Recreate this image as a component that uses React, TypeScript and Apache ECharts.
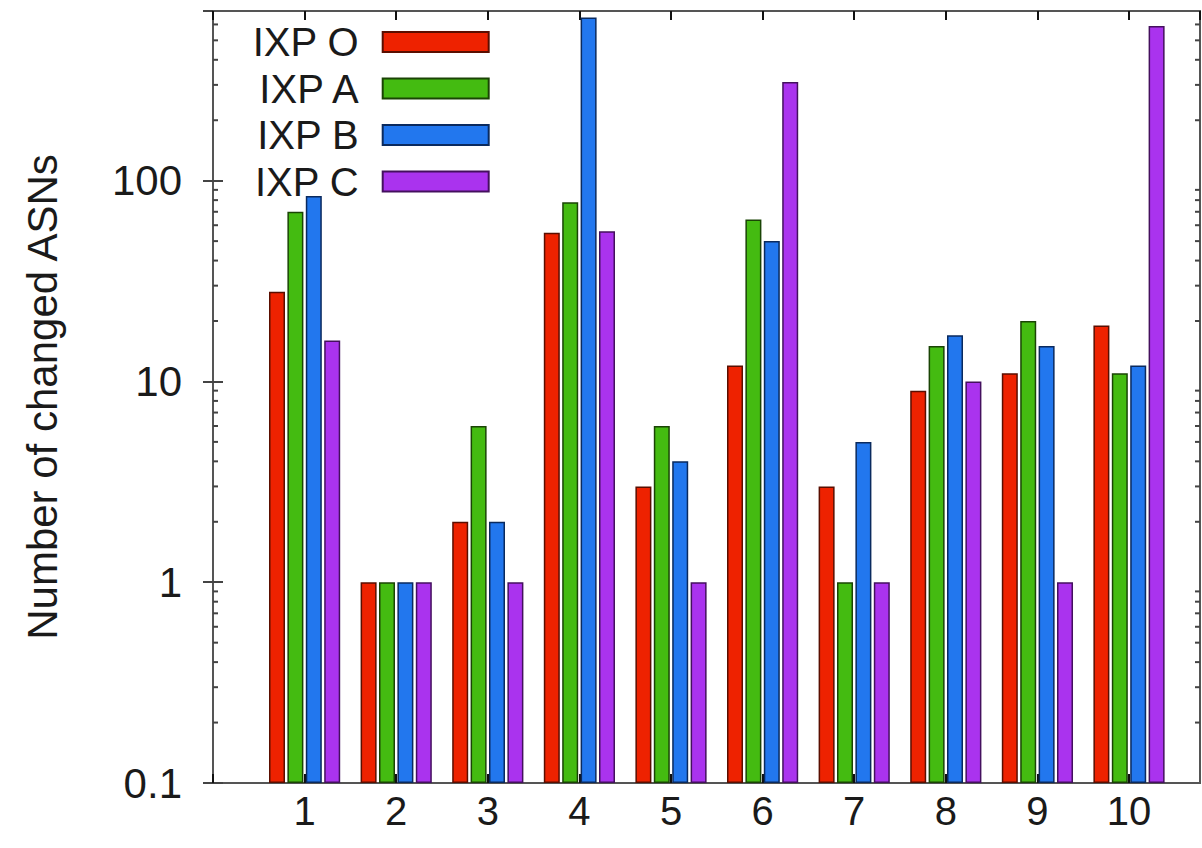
import React, { useEffect, useRef } from 'react';
import * as echarts from 'echarts';

// Categories along the x axis and the number of changed ASNs per IXP
const categories = [1, 2, 3, 4, 5, 6, 7, 8, 9, 10];
const seriesNames = ['IXP O', 'IXP A', 'IXP B', 'IXP C'];
const ixpO = [28, 1, 2, 55, 3, 12, 3, 9, 11, 19];
const ixpA = [70, 1, 6, 78, 6, 64, 1, 15, 20, 11];
const ixpB = [84, 1, 2, 650, 4, 50, 5, 17, 15, 12];
const ixpC = [16, 1, 1, 56, 1, 310, 1, 10, 1, 590];

// Axis ticks
const yTickLabels = ['0.1', '1', '10', '100'];
const yMinorTicks = [
  0.2, 0.3, 0.4, 0.5, 0.6, 0.7, 0.8, 0.9,
  2, 3, 4, 5, 6, 7, 8, 9,
  20, 30, 40, 50, 60, 70, 80, 90,
  200, 300, 400, 500, 600,
];

const Y_MIN = 0.1;
const Y_MAX = 700;
const X_MIN = 0;
const X_MAX = 10.775;

const FONT = '"Liberation Sans", Arial, Helvetica, sans-serif';
const TEXT = '#1a1a1a';
const FRAME = '#555555';

const fills = ['#ee2200', '#44bb11', '#2277ee', '#aa33ee'];
const borders = ['#5a0e00', '#1a4405', '#0a2a5e', '#44105e'];

function yLabel(v: number): string {
  for (const t of yTickLabels) {
    if (Math.abs(Number(t) - v) < Number(t) * 1e-6) return t;
  }
  return '';
}

export default function App() {
  const ref = useRef<HTMLDivElement>(null);

  useEffect(() => {
    if (!ref.current) return;
    const chart = echarts.init(ref.current, null, { renderer: 'svg' });

    const values = [ixpO, ixpA, ixpB, ixpC];
    const barSeries = seriesNames.map((name, i) => ({
      name,
      type: 'bar',
      xAxisIndex: 0,
      yAxisIndex: 0,
      barWidth: 16,
      barGap: '15%',
      data: categories.map((c, k) => [c, values[i][k]]),
      itemStyle: { color: fills[i], borderColor: borders[i], borderWidth: 1.5 },
      z: 3,
    }));

    // Minor ticks of the log axis at 2..9 of each decade, on both frame sides
    const minorTickSeries = {
      type: 'custom',
      xAxisIndex: 0,
      yAxisIndex: 0,
      silent: true,
      z: 1,
      data: yMinorTicks.map((v) => [X_MIN, v]),
      encode: { x: 0, y: 1 },
      renderItem: (_params: any, api: any) => {
        const v = api.value(1);
        const l = api.coord([X_MIN, v]);
        const r = api.coord([X_MAX, v]);
        const style = { stroke: '#444', lineWidth: 2 };
        return {
          type: 'group',
          children: [
            { type: 'line', shape: { x1: l[0], y1: l[1], x2: l[0] + 5, y2: l[1] }, style },
            { type: 'line', shape: { x1: r[0] - 5, y1: r[1], x2: r[0], y2: r[1] }, style },
          ],
        };
      },
    };

    const xAxisBase = {
      type: 'value',
      min: X_MIN,
      max: X_MAX,
      interval: 1,
      splitLine: { show: false },
      axisLine: { show: true, onZero: false, lineStyle: { color: FRAME, width: 2 } },
      axisTick: { show: true, inside: true, length: 9, lineStyle: { color: '#111', width: 2 } },
    };

    const yAxisBase = {
      type: 'log',
      logBase: 10,
      min: Y_MIN,
      max: Y_MAX,
      startValue: Y_MIN,
      splitLine: { show: false },
      axisLine: { show: true, lineStyle: { color: FRAME, width: 2 } },
      axisTick: { show: true, inside: true, length: 10, lineStyle: { color: '#444', width: 2 } },
    };

    chart.setOption({
      animation: false,
      backgroundColor: '#ffffff',
      grid: {
        left: 213,
        top: 11,
        right: 2,
        bottom: 65,
        show: true,
        borderColor: FRAME,
        borderWidth: 2,
        backgroundColor: '#ffffff',
      },
      legend: {
        data: seriesNames,
        orient: 'vertical',
        align: 'right',
        left: 247,
        top: 17,
        itemWidth: 106,
        itemHeight: 20,
        itemGap: 6.5,
        icon: 'rect',
        textStyle: { fontSize: 40, color: TEXT, fontFamily: FONT, padding: [0, 19, 6, 0] },
      },
      xAxis: [
        {
          ...xAxisBase,
          position: 'bottom',
          axisLabel: {
            show: true,
            fontSize: 40,
            color: TEXT,
            fontFamily: FONT,
            margin: 8,
            showMaxLabel: false,
            formatter: (v: number) => (categories.includes(v) ? String(v) : ''),
          },
        },
        {
          ...xAxisBase,
          position: 'top',
          axisLabel: { show: false },
        },
      ],
      yAxis: [
        {
          ...yAxisBase,
          position: 'left',
          axisLabel: {
            show: true,
            fontSize: 42,
            color: TEXT,
            fontFamily: FONT,
            margin: 31,
            showMaxLabel: false,
            formatter: (v: number) => yLabel(v),
          },
          name: 'Number of changed ASNs',
          nameLocation: 'middle',
          nameGap: 150,
          nameTextStyle: { fontSize: 42, color: TEXT, fontFamily: FONT },
        },
        {
          ...yAxisBase,
          position: 'right',
          axisLabel: { show: false },
        },
      ],
      series: [...barSeries, minorTickSeries],
    });

    return () => chart.dispose();
  }, []);

  return (
    <div
      ref={ref}
      style={{ position: 'fixed', left: 0, top: 0, width: 1202, height: 848, background: '#fff' }}
    />
  );
}
